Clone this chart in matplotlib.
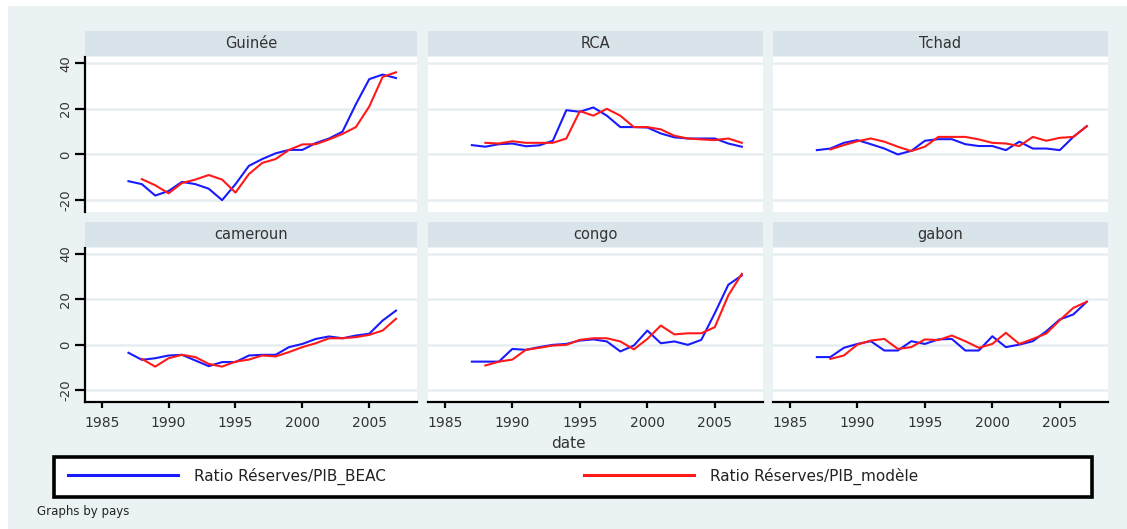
import matplotlib
matplotlib.use("Agg")
import matplotlib.pyplot as plt
from matplotlib.patches import Rectangle

# ---------------- data ----------------
countries = ["Guinée", "RCA", "Tchad", "cameroun", "congo", "gabon"]
years_beac = list(range(1987, 2008))
years_model = list(range(1988, 2008))

guinee_beac = [-11.7, -13, -18, -16, -12, -13, -15, -20, -13, -5, -2, 0.5, 2, 2, 5, 7, 10, 22, 33, 35, 33.5]
guinee_model = [-10.8, -13.5, -17, -12.5, -11, -9, -11, -16.7, -8.6, -3.7, -2, 2, 4.4, 4.5, 6.6, 9, 12, 21, 34, 36]

rca_beac = [4.1, 3.4, 4.5, 4.8, 3.6, 4, 6, 19.4, 18.7, 20.6, 17, 12, 12, 11.8, 9.2, 7.5, 7, 7, 7, 4.8, 3.4]
rca_model = [5.1, 4.8, 5.8, 5.1, 5.1, 5.1, 7, 19, 17, 20, 17, 12, 12, 11, 8.2, 7, 6.6, 6.3, 7, 5.1]

tchad_beac = [1.9, 2.6, 5.1, 6.3, 4.5, 2.6, 0, 1.6, 6, 6.7, 6.7, 4.5, 3.7, 3.7, 1.9, 5.6, 2.6, 2.6, 1.9, 7.7, 12.4]
tchad_model = [2.2, 4.1, 5.8, 7, 5.6, 3.4, 1.5, 3.4, 7.7, 7.7, 7.7, 6.6, 5.1, 4.8, 3.7, 7.7, 6, 7.3, 7.7, 12.4]

cameroun_beac = [-3.5, -6.6, -5.9, -4.7, -4.4, -6.9, -9.4, -7.6, -7.6, -4.7, -4.4, -4.4, -1, 0.4, 2.6, 3.7, 2.9, 4.1, 4.9, 10.7, 15.1]
cameroun_model = [-6.2, -9.6, -5.9, -4.4, -5.4, -8.4, -9.6, -7.4, -6.5, -4.7, -5.1, -3.2, -1, 0.7, 2.9, 2.9, 3.4, 4.4, 6.3, 11.5]

congo_beac = [-7.4, -7.4, -7.4, -1.8, -2.2, -1, 0, 0.4, 1.9, 2.4, 1.5, -2.9, -0.3, 6.3, 0.7, 1.5, 0, 2.2, 14, 26.5, 30.6]
congo_model = [-9.1, -7.4, -6.5, -2.2, -1.3, -0.3, 0, 2.2, 2.9, 2.9, 1.5, -2, 2.6, 8.5, 4.6, 5.1, 5.1, 7.8, 21.8, 31.3]

gabon_beac = [-5.4, -5.4, -1.3, 0.4, 1.6, -2.5, -2.5, 1.6, 0.4, 2.4, 2.6, -2.5, -2.5, 3.8, -1, 0.1, 1.6, 6, 11.2, 13.4, 19]
gabon_model = [-6.2, -4.7, 0.1, 1.9, 2.6, -1.8, -1, 2.4, 2.1, 4.1, 1.6, -1.3, 0.4, 5.3, 0.4, 2.6, 5, 10.9, 16.3, 19]

series_beac = [guinee_beac, rca_beac, tchad_beac, cameroun_beac, congo_beac, gabon_beac]
series_model = [guinee_model, rca_model, tchad_model, cameroun_model, congo_model, gabon_model]

yticks = [-20, 0, 20, 40]
xticks = [1985, 1990, 1995, 2000, 2005]
label_beac = "Ratio Réserves/PIB_BEAC"
label_model = "Ratio Réserves/PIB_modèle"
xlabel = "date"
note = "Graphs by pays"

# ---------------- style ----------------
W, H = 1127, 529
BG = "#eaf2f3"
STRIP = "#d9e4ea"
GRID = "#e6eef1"
BLUE = "#1a1aff"
RED = "#ff1a1a"
TXT = "#333333"

fig = plt.figure(figsize=(W / 100, H / 100), dpi=100)
fig.patch.set_facecolor("white")
fig.add_artist(Rectangle((8 / W, 0), 1 - 8 / W, 1 - 6 / H, transform=fig.transFigure,
                         facecolor=BG, edgecolor="none", zorder=-10))


def fx(px):
    return px / W


def fy(py):
    return 1 - py / H


cols = [(85, 417), (428, 763), (773, 1108)]
rows = [  # (strip_top, strip_bottom, plot_top, plot_bottom)
    (31, 56, 57, 212),
    (222, 247, 248, 402),
]

handles = None
for i, name in enumerate(countries):
    r, c = divmod(i, 3)
    x0, x1 = cols[c]
    st, sb, pt, pb = rows[r]
    ax = fig.add_axes([fx(x0), fy(pb), fx(x1 - x0), (pb - pt) / H])
    ax.set_facecolor("white")
    ax.set_xlim(1983.75, 2008.57)
    ax.set_ylim(-25.2, 42.7)
    for yv in yticks:
        ax.axhline(yv, color=GRID, lw=1.8, zorder=0.5)
    lb, = ax.plot(years_beac, series_beac[i], color=BLUE, lw=1.5, zorder=3)
    lm, = ax.plot(years_model, series_model[i], color=RED, lw=1.5, zorder=3)
    if handles is None:
        handles = (lb, lm)
    for s in ["top", "right"]:
        ax.spines[s].set_visible(False)
    ax.spines["left"].set_visible(c == 0)
    ax.spines["bottom"].set_visible(r == 1)
    ax.spines["left"].set_linewidth(1.6)
    ax.spines["bottom"].set_linewidth(1.6)
    if c == 0:
        ax.set_yticks(yticks)
        ax.set_yticklabels([str(v) for v in yticks], rotation=90, va="center",
                           fontsize=9.5, color=TXT)
        ax.tick_params(axis="y", length=7, width=1.6, pad=2)
    else:
        ax.set_yticks([])
    if r == 1:
        ax.set_xticks(xticks)
        ax.set_xticklabels([str(v) for v in xticks], fontsize=10, color=TXT)
        ax.tick_params(axis="x", length=4, width=1.6, pad=6)
    else:
        ax.set_xticks([])
    # strip header
    sax = fig.add_axes([fx(x0), fy(sb), fx(x1 - x0), (sb - st) / H])
    sax.set_facecolor(STRIP)
    sax.set_xticks([])
    sax.set_yticks([])
    for s in sax.spines.values():
        s.set_visible(False)
    sax.text(0.5, 0.5, name, ha="center", va="center", fontsize=10.5, color=TXT,
             transform=sax.transAxes)

fig.text(fx(568), fy(444), xlabel, ha="center", va="center", fontsize=11, color=TXT)

# legend frame
fig.add_artist(Rectangle((fx(54), fy(497)), fx(1092 - 54), 40 / H,
                         transform=fig.transFigure, facecolor="white",
                         edgecolor="black", linewidth=2.6, zorder=5))
# legend entries (one legend per key so they sit where the reference puts them)
for handle, lab, xstart in [(handles[0], label_beac, 68), (handles[1], label_model, 584)]:
    lg = fig.legend([handle], [lab], loc="center left",
                    bbox_to_anchor=(fx(xstart), fy(476)),
                    bbox_transform=fig.transFigure,
                    fontsize=11, handlelength=7.2, handletextpad=1.05,
                    borderaxespad=0, borderpad=0, frameon=False)
    lg.set_zorder(6)
    for t in lg.get_texts():
        t.set_color("#222222")
    for h in lg.get_lines():
        h.set_linewidth(2.2)

fig.text(fx(37), fy(511), note, ha="left", va="center", fontsize=8.5, color="#222222")

fig.savefig("out.png", dpi=100, facecolor=fig.get_facecolor())
